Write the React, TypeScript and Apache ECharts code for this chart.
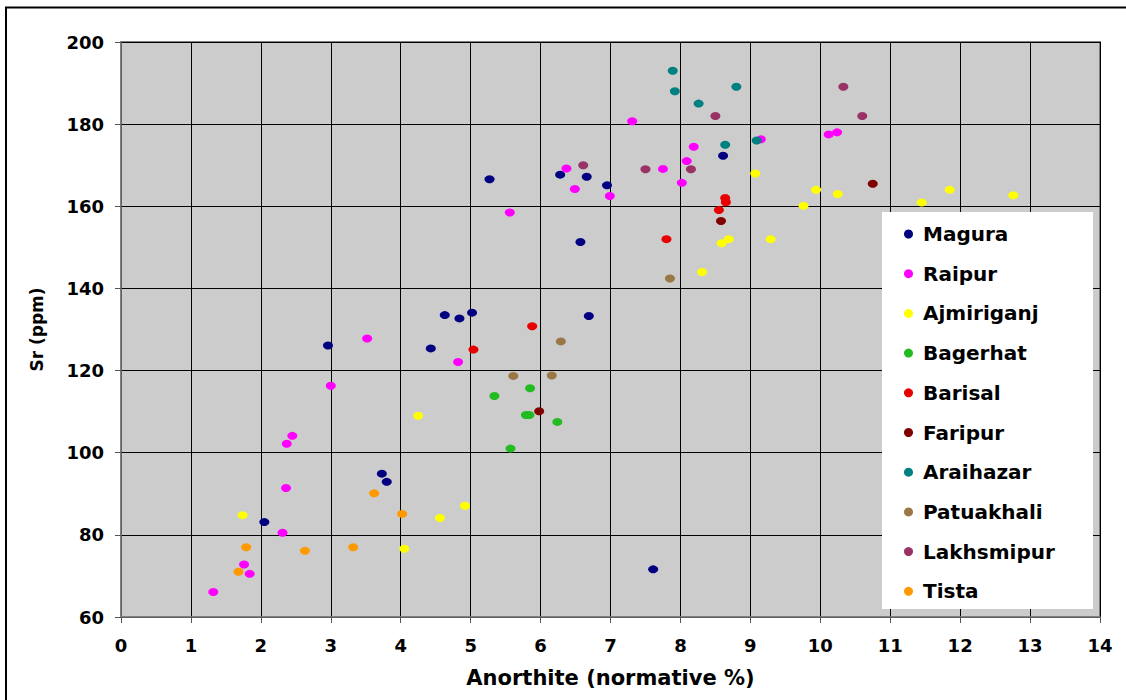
import React, { useEffect, useRef } from "react";
import * as echarts from "echarts";

const seriesNames = ["Magura", "Raipur", "Ajmiriganj", "Bagerhat", "Barisal", "Faripur", "Araihazar", "Patuakhali", "Lakhsmipur", "Tista"];
const seriesColors = ["#000080", "#FF00FF", "#FFFF00", "#22BB22", "#E60000", "#800000", "#008080", "#9A7845", "#993366", "#FF9900"];

const magura = [[5.27, 166.6], [4.63, 133.5], [4.84, 132.7], [5.02, 134.1], [8.61, 172.3], [6.28, 167.7], [6.66, 167.2], [6.95, 165.1], [6.57, 151.3], [6.69, 133.3], [2.96, 126.1], [4.43, 125.4], [3.73, 94.9], [3.8, 92.9], [2.05, 83.1], [7.61, 71.6]];
const raipur = [[3.52, 127.8], [7.31, 180.7], [10.12, 177.5], [10.24, 178.0], [9.15, 176.3], [8.19, 174.5], [6.37, 169.2], [7.75, 169.1], [8.09, 171.0], [6.49, 164.2], [6.99, 162.5], [8.02, 165.7], [5.56, 158.5], [4.82, 122.1], [3.0, 116.3], [2.45, 104.1], [2.37, 102.2], [2.36, 91.4], [2.31, 80.5], [1.76, 72.8], [1.84, 70.5], [1.32, 66.1]];
const ajmiriganj = [[9.07, 168.0], [9.94, 164.0], [10.25, 163.0], [9.76, 160.1], [8.59, 151.0], [8.69, 152.0], [9.29, 152.0], [8.31, 144.0], [11.45, 160.9], [11.85, 164.0], [12.76, 162.7], [4.25, 109.0], [4.92, 87.1], [4.56, 84.1], [1.74, 84.8], [4.05, 76.6]];
const bagerhat = [[5.34, 113.8], [5.85, 115.7], [5.79, 109.2], [5.84, 109.2], [6.24, 107.5], [5.57, 101.0]];
const barisal = [[8.64, 162.0], [8.65, 161.0], [8.55, 159.1], [7.8, 152.0], [5.88, 130.8], [5.04, 125.1]];
const faripur = [[8.58, 156.4], [10.75, 165.5], [5.98, 110.1]];
const araihazar = [[7.89, 193.0], [7.92, 188.0], [8.8, 189.1], [8.26, 185.0], [8.64, 175.0], [9.09, 176.0]];
const patuakhali = [[7.85, 142.4], [6.29, 127.1], [5.61, 118.7], [6.16, 118.8]];
const lakhsmipur = [[8.5, 182.0], [10.33, 189.1], [10.6, 182.0], [6.61, 170.0], [7.5, 169.0], [8.15, 169.0]];
const tista = [[3.62, 90.1], [4.02, 85.1], [1.79, 77.0], [2.63, 76.1], [3.32, 77.0], [1.68, 71.0]];

const seriesData = [magura, raipur, ajmiriganj, bagerhat, barisal, faripur, araihazar, patuakhali, lakhsmipur, tista];

const xTitle = "Anorthite (normative %)";
const yTitle = "Sr (ppm)";

const FONT = "'DejaVu Sans', Verdana, sans-serif";

export default function App() {
  const ref = useRef<HTMLDivElement>(null);
  useEffect(() => {
    if (!ref.current) return;
    const chart = echarts.init(ref.current, null, { renderer: "svg" });
    chart.setOption({
      animation: false,
      backgroundColor: "#ffffff",
      textStyle: { fontFamily: FONT },
      grid: {
        left: 121,
        top: 42,
        right: 26,
        bottom: 83,
        show: true,
        backgroundColor: "#CCCCCC",
        borderColor: "#808080",
        borderWidth: 2,
      },
      xAxis: {
        type: "value",
        min: 0,
        max: 14,
        interval: 1,
        name: xTitle,
        nameLocation: "middle",
        nameGap: 50,
        nameTextStyle: { fontFamily: FONT, fontWeight: "bold", fontSize: 21, color: "#000" },
        axisLine: { show: true, onZero: false, lineStyle: { color: "#808080", width: 1.5 } },
        axisTick: { show: true, inside: false, length: 6, lineStyle: { color: "#555" } },
        axisLabel: { margin: 19, fontFamily: FONT, fontWeight: "bold", fontSize: 18, color: "#000" },
        splitLine: { show: true, lineStyle: { color: "#000", width: 1 } },
      },
      yAxis: {
        type: "value",
        min: 60,
        max: 200,
        interval: 20,
        name: yTitle,
        nameLocation: "middle",
        nameGap: 76,
        nameTextStyle: { fontFamily: FONT, fontWeight: "bold", fontSize: 17, color: "#000" },
        axisLine: { show: true, onZero: false, lineStyle: { color: "#808080", width: 1.5 } },
        axisTick: { show: true, inside: false, length: 6, lineStyle: { color: "#555" } },
        axisLabel: { margin: 17, fontFamily: FONT, fontWeight: "bold", fontSize: 18, color: "#000" },
        splitLine: { show: true, lineStyle: { color: "#000", width: 1 } },
      },
      legend: {
        orient: "vertical",
        left: 904,
        top: 224,
        padding: 0,
        itemWidth: 19,
        itemHeight: 9,
        itemGap: 19.7,
        icon: "circle",
        textStyle: { fontFamily: FONT, fontWeight: "bold", fontSize: 20, lineHeight: 20, color: "#000" },
        data: seriesNames,
        z: 5,
      },
      graphic: [
        {
          type: "rect",
          z: 3,
          shape: { x: 882, y: 212, width: 211, height: 397 },
          style: { fill: "#ffffff" },
          silent: true,
        },
        {
          type: "rect",
          z: 10,
          shape: { x: 6, y: 7.5, width: 1200, height: 800 },
          style: { fill: "none", stroke: "#000", lineWidth: 2 },
          silent: true,
        },
      ],
      series: seriesNames.map((name, i) => ({
        type: "scatter",
        name,
        data: seriesData[i],
        symbol: "circle",
        symbolSize: [10, 8],
        itemStyle: { color: seriesColors[i], opacity: 1 },
        z: 2,
      })),
    });
    return () => chart.dispose();
  }, []);
  return <div ref={ref} style={{ position: "fixed", left: 0, top: 0, width: 1126, height: 700 }} />;
}
